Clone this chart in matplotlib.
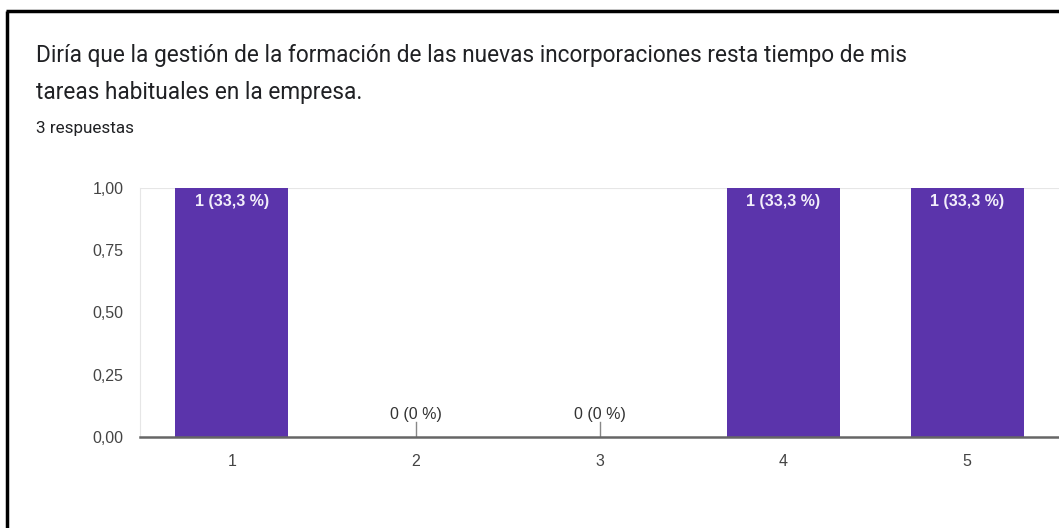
import matplotlib.pyplot as plt
from matplotlib.lines import Line2D

# Datos del gráfico
categorias = ['1', '2', '3', '4', '5']
valores = [1, 0, 0, 1, 1]
etiquetas = ['1 (33,3 %)', '0 (0 %)', '0 (0 %)', '1 (33,3 %)', '1 (33,3 %)']
ticks_y = [0, 0.25, 0.5, 0.75, 1.0]
ticks_y_txt = ['0,00', '0,25', '0,50', '0,75', '1,00']

titulo = ('Diría que la gestión de la formación de las nuevas incorporaciones resta tiempo de mis\n'
          'tareas habituales en la empresa.')
subtitulo = '3 respuestas'

color_barra = '#5b34ab'
gris = '#444444'

fig = plt.figure(figsize=(10.59, 5.28), dpi=100)
ax = fig.add_axes([140 / 1059, 1 - 437 / 528, 1 - 140 / 1059, (437 - 188) / 528])

x = list(range(1, len(categorias) + 1))
ax.bar(x, valores, width=0.615, color=color_barra, zorder=3)

for xi, v, t in zip(x, valores, etiquetas):
    if v > 0:
        ax.text(xi, v - 0.025, t, ha='center', va='top', color='#f2eefa',
                fontsize=11.5, fontweight='bold', family='Liberation Sans', zorder=4)
    else:
        ax.plot([xi, xi], [0, 0.06], color='#888888', lw=1, zorder=4)
        ax.text(xi, 0.06, t, ha='center', va='bottom', color='#333333',
                fontsize=11.5, family='Liberation Sans', zorder=4)

ax.set_xlim(0.5, 5.5)
ax.set_ylim(0, 1)
ax.set_xticks(x)
ax.set_xticklabels(categorias)
ax.set_yticks(ticks_y)
ax.set_yticklabels(ticks_y_txt)
ax.tick_params(axis='both', length=0, labelsize=11.5, colors=gris)
ax.tick_params(axis='x', pad=12)
ax.tick_params(axis='y', pad=12)
for lab in ax.get_xticklabels() + ax.get_yticklabels():
    lab.set_family('Liberation Sans')

ax.axhline(1.0, color='#e6e6e6', lw=1.5, zorder=1)

# Bordes del área
for spine in ax.spines.values():
    spine.set_visible(False)
ax.spines['left'].set_visible(True)
ax.spines['left'].set_color('#e6e6e6')
ax.spines['bottom'].set_visible(True)
ax.spines['bottom'].set_color('#666666')
ax.spines['bottom'].set_linewidth(1.8)
ax.spines['bottom'].set_zorder(5)

fig.text(36 / 1059, 1 - 44 / 528, titulo, ha='left', va='top', fontsize=16.3,
         family='Roboto', color='#202124', linespacing=1.75)
fig.text(36 / 1059, 1 - 128 / 528, subtitulo, ha='left', va='center', fontsize=12.3,
         family='Roboto', color='#202124')

# Marco negro (izquierda y arriba)
fig.add_artist(Line2D([7 / 1059, 7 / 1059], [0, 1 - 11 / 528], color='black', lw=2.5,
                      transform=fig.transFigure, solid_capstyle='butt'))
fig.add_artist(Line2D([6 / 1059, 1], [1 - 11 / 528, 1 - 11 / 528], color='black', lw=2.5,
                      transform=fig.transFigure, solid_capstyle='butt'))

fig.savefig('out.png', dpi=100)
